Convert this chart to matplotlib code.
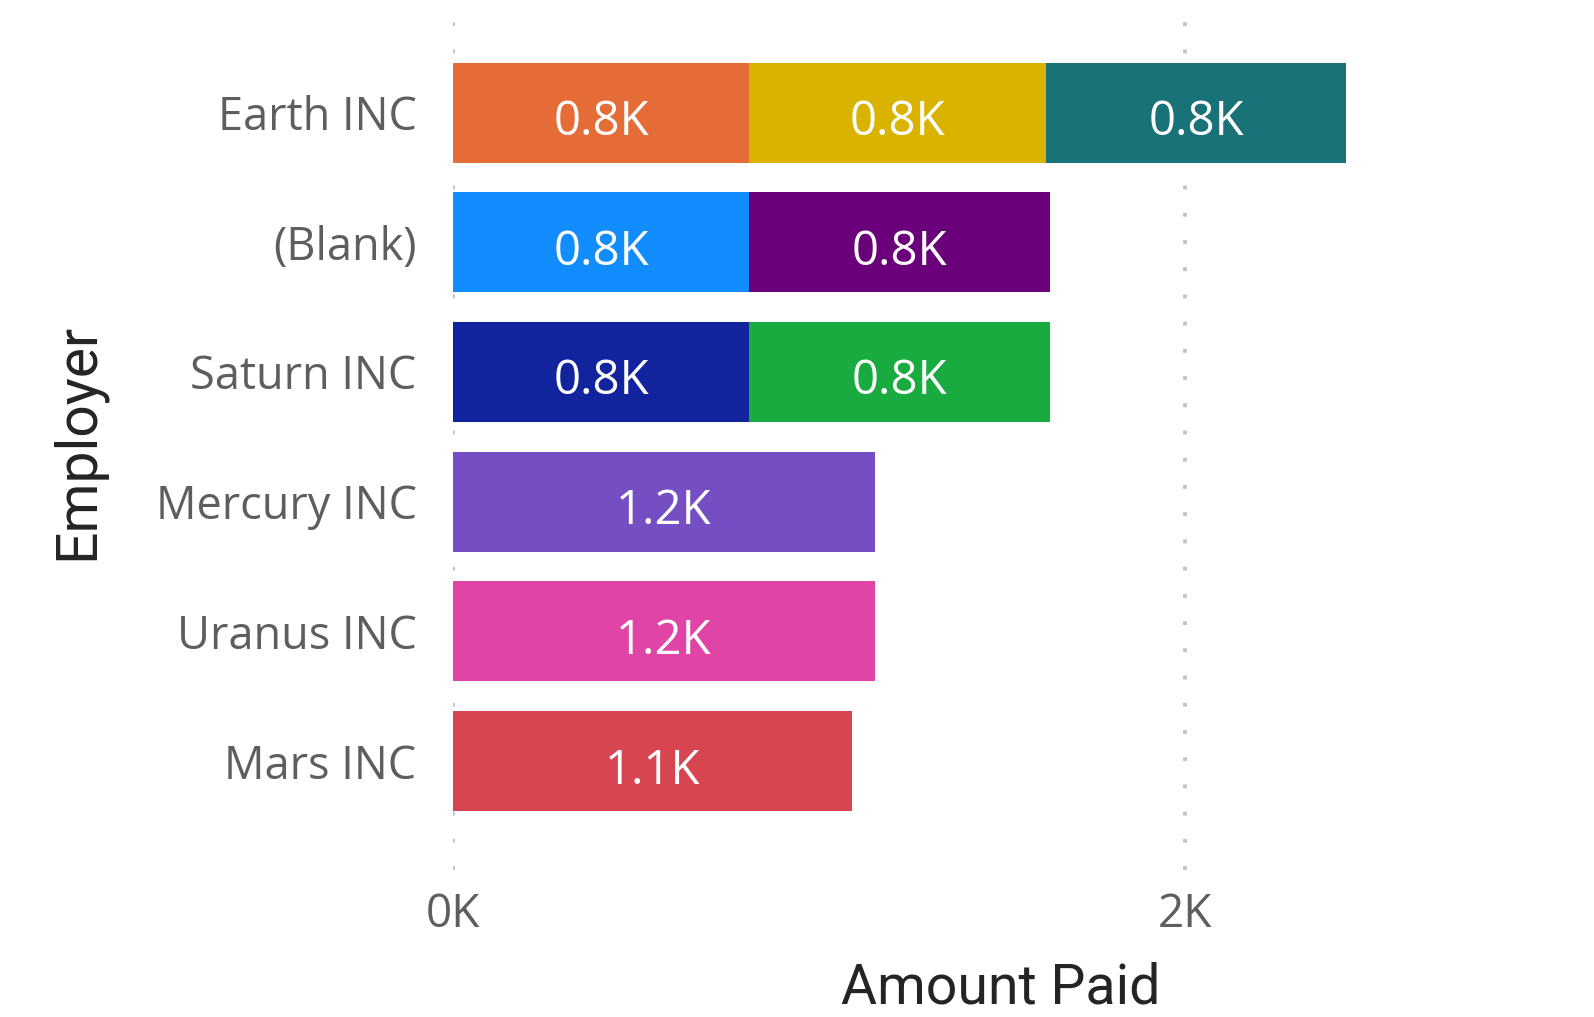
import matplotlib.pyplot as plt
import numpy as np

# data (values in dollars)
employers = ["Earth INC", "(Blank)", "Saturn INC", "Mercury INC", "Uranus INC", "Mars INC"]
seg1 = [810, 810, 810, 1152, 1152, 1090]
seg2 = [810, 820, 820, 0, 0, 0]
seg3 = [820, 0, 0, 0, 0, 0]
col1 = ["#E66C37", "#118DFF", "#12239E", "#744EC2", "#E044A7", "#D64550"]
col2 = ["#D9B300", "#6B007B", "#1AAB40", "#ffffff", "#ffffff", "#ffffff"]
col3 = ["#197278", "#ffffff", "#ffffff", "#ffffff", "#ffffff", "#ffffff"]
xticks = [0, 2000]
xticklabels = ["0K", "2K"]

plt.rcParams['font.family'] = ['Open Sans', 'DejaVu Sans']

fig = plt.figure(figsize=(15.94, 10.17), dpi=100)
ax = fig.add_axes([0.284, 0.1445, 0.688, 0.8435])

y = np.arange(len(employers))
left = np.zeros(len(employers))
for vals, cols in [(seg1, col1), (seg2, col2), (seg3, col3)]:
    vals = np.array(vals, dtype=float)
    bars = ax.barh(y, vals, left=left, height=0.77, color=cols, zorder=2)
    for b, v in zip(bars, vals):
        if v > 0:
            ax.text(b.get_x() + v / 2, b.get_y() + b.get_height() / 2 + 0.075,
                    f"{v/1000:.1f}K", color="white", fontsize=34,
                    ha="center", va="center", zorder=3)
    left += vals

# dotted gridlines
for xt in xticks:
    ax.axvline(xt, color="#C4C4C4", lw=2.8, ls=(0, (1, 6)), zorder=1,
               dash_capstyle="butt")

ax.set_xlim(0, 2995)
ax.set_ylim(5.84, -0.774)
ax.set_yticks(y)
ax.set_yticklabels(employers, fontsize=32.5, color="#605E5C")
ax.set_xticks(xticks)
ax.set_xticklabels(xticklabels, fontsize=33, color="#605E5C")
ax.tick_params(length=0)
ax.tick_params(axis="y", pad=26)
ax.tick_params(axis="x", pad=16)
for s in ax.spines.values():
    s.set_visible(False)

ax.set_xlabel("Amount Paid", fontsize=40, color="#252423", family="Roboto", labelpad=17)
ax.set_ylabel("Employer", fontsize=41, color="#252423", family="Roboto", labelpad=36)

fig.savefig("out.png", dpi=100)
